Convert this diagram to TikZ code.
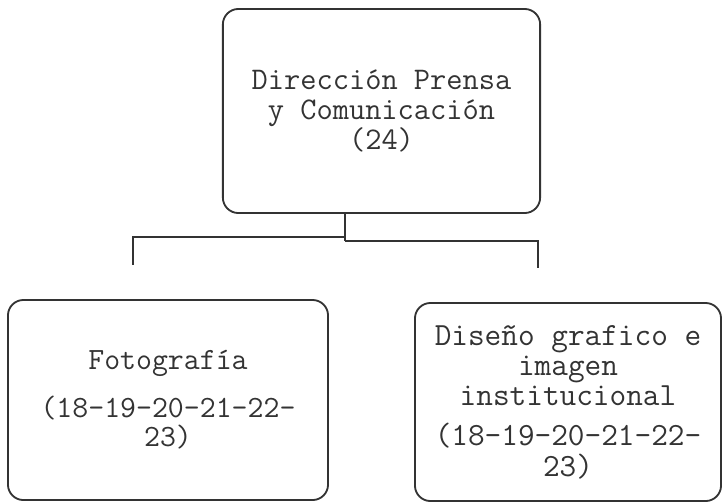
\documentclass[tikz,border=0pt]{standalone}

\begin{document}
\begin{tikzpicture}[x=0.025cm,y=-0.025cm,
  box/.style={draw=black!80,line width=1.3pt,rounded corners=11pt,inner sep=0pt,align=center,text=black!80},
  link/.style={draw=black!80,line width=1.3pt}]
\useasboundingbox (0,0) rectangle (723,502);
\node[box,minimum width=7.93cm,minimum height=5.1cm,font=\ttfamily\fontsize{22.4}{21}\selectfont] (prensa) at (381.5,111)
  {Dirección Prensa\\y Comunicación\\(24)};
\node[box,minimum width=8cm,minimum height=5cm,font=\ttfamily\fontsize{22}{21}\selectfont] (foto) at (168,400)
  {Fotografía\\[0.45cm](18-19-20-21-22-\\23)};
\node[box,minimum width=7.65cm,minimum height=4.95cm,font=\ttfamily\fontsize{23}{21.5}\selectfont] (diseno) at (568,402)
  {Diseño grafico e\\imagen\\institucional\\[0.25cm](18-19-20-21-22-\\23)};
\coordinate (forkL) at (345,237);
\coordinate (forkR) at (345,241);
\coordinate (fotoIn) at (133,265);
\coordinate (disenoIn) at (538,268);
\draw[link] (prensa.south -| forkL) -- (forkR);
\draw[link] (forkL) -| (fotoIn);
\draw[link] (forkR) -| (disenoIn);
\end{tikzpicture}
\end{document}
